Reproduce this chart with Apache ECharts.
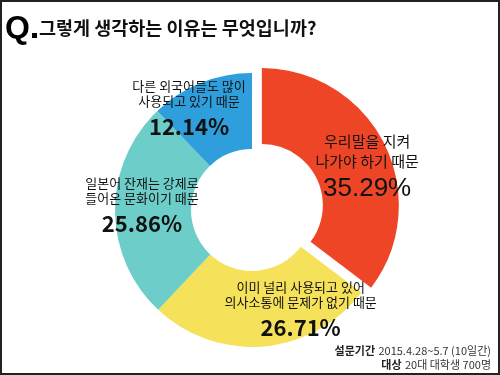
<!DOCTYPE html>
<html><head><meta charset="utf-8">
<style>html,body{margin:0;padding:0;background:#fff}#c{width:500px;height:375px}</style>
<script src="https://cdn.jsdelivr.net/npm/echarts@6/dist/echarts.min.js"></script>
</head><body><div id="c"></div>
<script>
var categories = ['우리말을 지켜\n나가야 하기 때문', '이미 널리 사용되고 있어\n의사소통에 문제가 없기 때문', '일본어 잔재는 강제로\n들어온 문화이기 때문', '다른 외국어들도 많이\n사용되고 있기 때문'];
var values = [35.29, 26.71, 25.86, 12.14];
var colors = ['#EF4527', '#F6E15B', '#6CCDC9', '#2F9EDC'];
var labelShift = [[14, 9], [40, 1], [-8, -2], [-25, -4]];

var KR = '"Noto Sans CJK KR", "Noto Sans", sans-serif';
var chart = echarts.init(document.getElementById('c'), null, {renderer: 'canvas'});
var data = categories.map(function (c, i) {
  var item = {name: c, value: values[i], itemStyle: {color: colors[i]}};
  if (i === 0) {
    item.selected = true;
    item.label = {rich: {t: {fontSize: 15, fontWeight: 'normal', lineHeight: 20, fontFamily: KR}, p: {fontSize: 26, fontWeight: 'normal', fontFamily: 'Liberation Sans, Arial, sans-serif', lineHeight: 34}}};
  }
  return item;
});
chart.setOption({
  animation: false,
  graphic: [
    {type: 'rect', shape: {x: 1, y: 1, width: 498, height: 373}, style: {fill: 'none', stroke: '#222', lineWidth: 2}, z: 100},
    {type: 'text', left: 5, top: 13, style: {text: 'Q', font: 'bold 32px "Liberation Sans", Arial, sans-serif', fill: '#000'}},
    {type: 'rect', shape: {x: 32, y: 33, width: 5, height: 5}, style: {fill: '#000'}},
    {type: 'text', left: 39, top: 19, style: {text: '그렇게 생각하는 이유는 무엇입니까?', font: 'bold 18.5px ' + KR, fill: '#111'}},
    {type: 'text', right: 9, top: 345, style: {rich: {b: {fontWeight: 'bold', fontSize: 11, fontFamily: KR, fill: '#222'}, n: {fontSize: 11, fontFamily: KR, fill: '#333'}}, text: '{b|설문기간} {n|2015.4.28~5.7 (10일간)}'}},
    {type: 'text', right: 9, top: 359, style: {rich: {b: {fontWeight: 'bold', fontSize: 11, fontFamily: KR, fill: '#222'}, n: {fontSize: 11, fontFamily: KR, fill: '#333'}}, text: '{b|대상} {n|20대 대학생 700명}'}}
  ],
  series: [{
    type: 'pie',
    center: [252, 210],
    radius: [61, 137],
    startAngle: 90,
    clockwise: true,
    selectedMode: 'single',
    selectedOffset: 11,
    avoidLabelOverlap: false,
    emphasis: {disabled: true},
    itemStyle: {borderWidth: 0},
    label: {
      show: true,
      position: 'inside',
      color: '#111',
      formatter: function (p) { return '{t|' + p.name.replace('\n', '}\n{t|') + '}\n{p|' + p.value.toFixed(2) + '%}'; },
      rich: {
        t: {fontSize: 13, lineHeight: 15, fontFamily: KR, color: '#111'},
        p: {fontSize: 22, fontWeight: 'bold', lineHeight: 36, fontFamily: KR, color: '#111'}
      }
    },
    labelLine: {show: false},
    labelLayout: function (params) {
      var s = labelShift[params.dataIndex];
      return {dx: s[0], dy: s[1]};
    },
    data: data
  }]
});
</script></body></html>
